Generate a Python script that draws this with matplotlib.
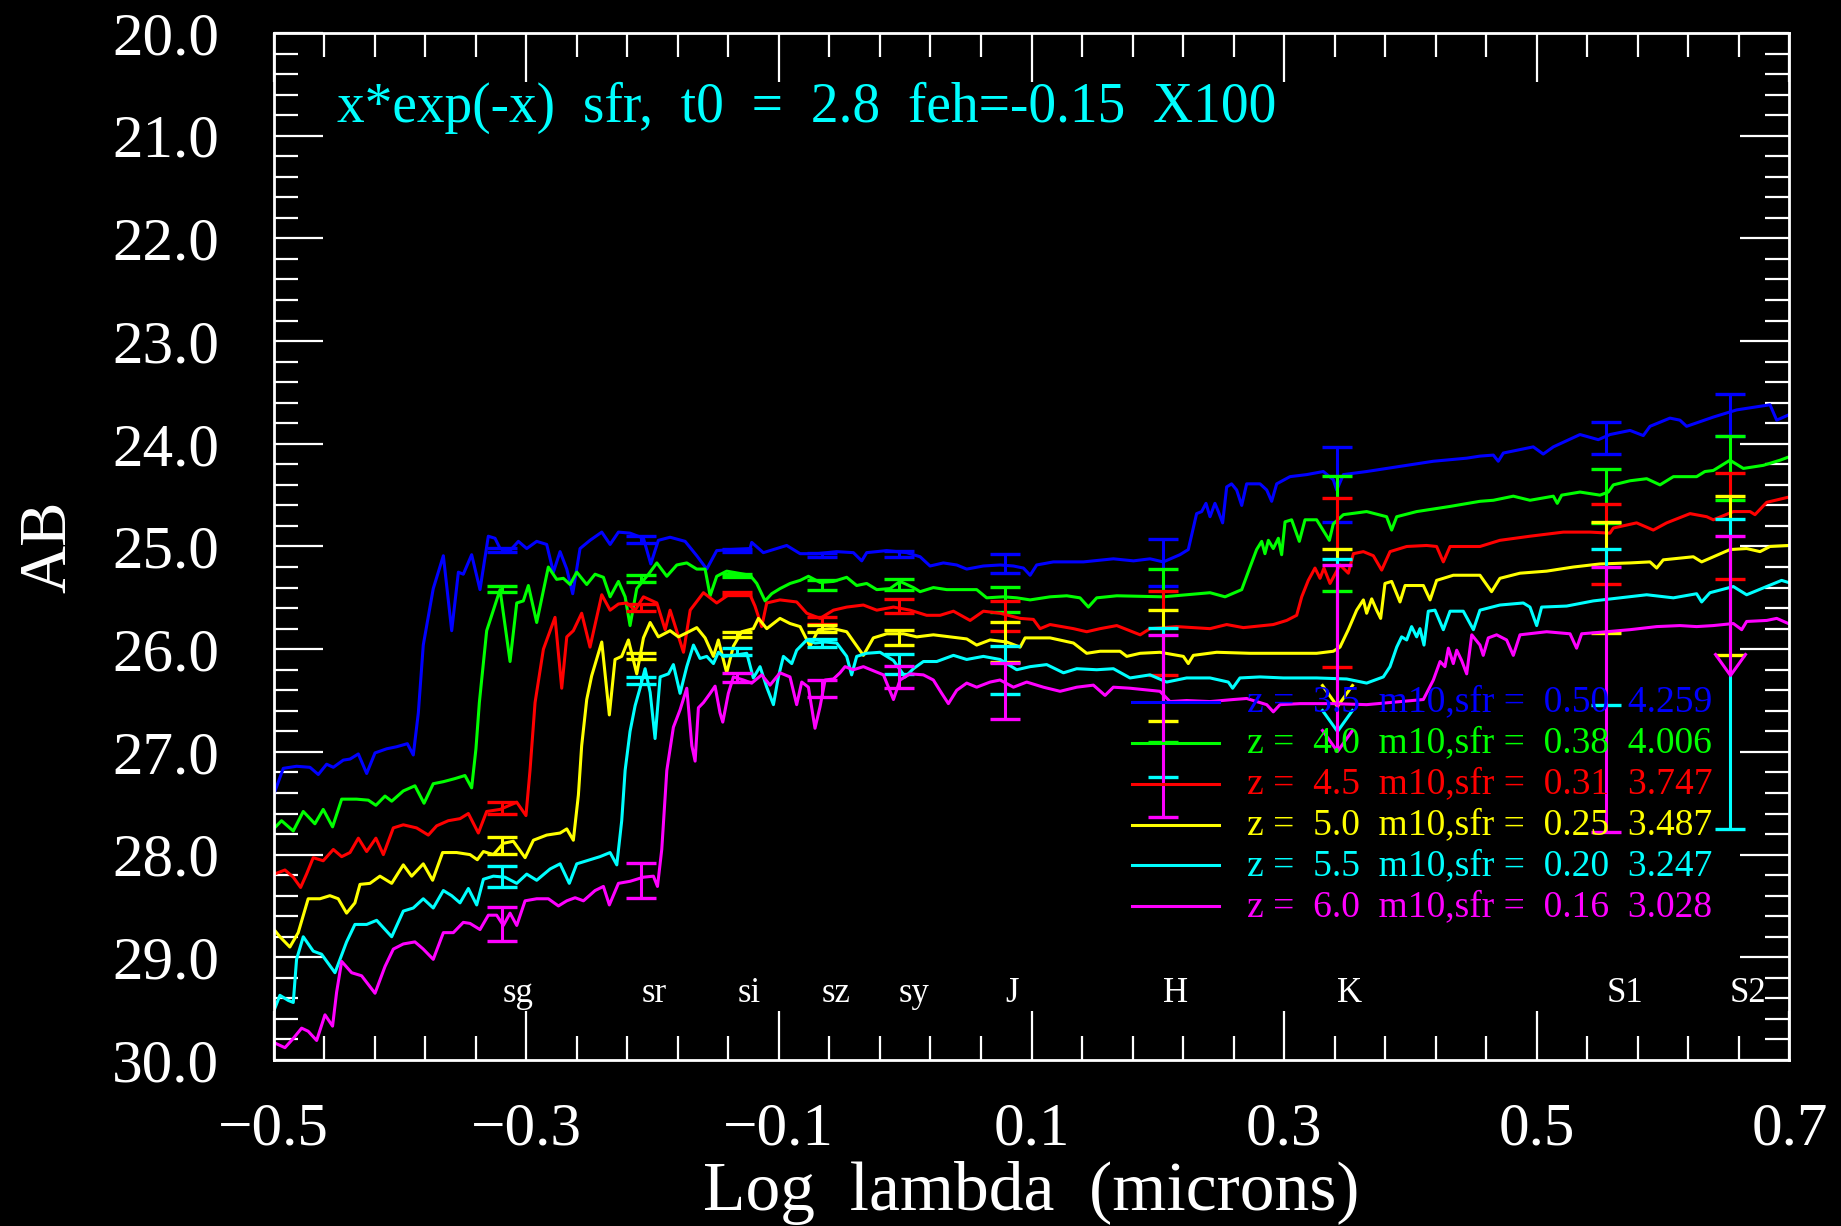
import matplotlib
matplotlib.use('Agg')
import matplotlib.pyplot as plt
from matplotlib.ticker import MultipleLocator, FuncFormatter

plt.rcParams['font.family'] = ['Liberation Serif', 'DejaVu Serif']

# ---- spectra (log lambda, AB mag) ----
blue_x = [-0.500, -0.4923, -0.4818, -0.4712, -0.4646, -0.4580, -0.4527, -0.4448, -0.4395, -0.4329,
          -0.4263, -0.4197, -0.4105, -0.4026, -0.3941, -0.3894, -0.3854, -0.3815, -0.3736, -0.3656,
          -0.3590, -0.3537, -0.3498, -0.3432, -0.3366, -0.3300, -0.3247, -0.3207, -0.3128, -0.3062,
          -0.2996, -0.2917, -0.2838, -0.2785, -0.2732, -0.2679, -0.2632, -0.2574, -0.2495, -0.2402,
          -0.2336, -0.2270, -0.2178, -0.2072, -0.2014, -0.1954, -0.1861, -0.1742, -0.1650, -0.1571,
          -0.1492, -0.1387, -0.1228, -0.1215, -0.1123, -0.1043, -0.0938, -0.0832, -0.0700, -0.0542,
          -0.0410, -0.0344, -0.0305, -0.0146, 0.0012, 0.0118, 0.0197, 0.0302, 0.0408, 0.0487,
          0.0619, 0.0751, 0.0857, 0.0936, 0.0989, 0.1041, 0.1173, 0.1411, 0.1648, 0.1807,
          0.1938, 0.2043, 0.2175, 0.2241, 0.2307, 0.2347, 0.2381, 0.2413, 0.2452, 0.2479,
          0.2513, 0.2545, 0.2584, 0.2624, 0.2664, 0.2703, 0.2809, 0.2862, 0.2901, 0.2941,
          0.3046, 0.3178, 0.3310, 0.3389, 0.3416, 0.3469, 0.3653, 0.3917, 0.4181, 0.4445,
          0.4550, 0.4656, 0.4695, 0.4735, 0.4972, 0.5051, 0.5131, 0.5342, 0.5487, 0.5579,
          0.5738, 0.5843, 0.5896, 0.6054, 0.6133, 0.6186, 0.6397, 0.6582, 0.6846, 0.6899, 0.6991]
blue_y = [27.42, 27.16, 27.14, 27.15, 27.22, 27.12, 27.15, 27.08, 27.07, 27.02,
          27.21, 27.01, 26.97, 26.95, 26.92, 27.03, 26.62, 25.96, 25.41, 25.09,
          25.82, 25.25, 25.27, 25.08, 25.42, 24.90, 24.92, 25.02, 25.04, 24.95,
          25.02, 24.95, 24.98, 25.25, 25.05, 25.22, 25.46, 25.02, 24.94, 24.86,
          24.98, 24.86, 24.87, 24.92, 25.17, 24.94, 24.91, 24.95, 25.09, 25.22,
          25.04, 25.03, 25.02, 24.96, 25.06, 25.03, 24.99, 25.07, 25.07, 25.05,
          25.06, 25.14, 25.06, 25.04, 25.06, 25.10, 25.19, 25.16, 25.18, 25.22,
          25.19, 25.18, 25.19, 25.21, 25.28, 25.18, 25.15, 25.15, 25.12, 25.14,
          25.12, 25.15, 25.08, 25.03, 24.68, 24.66, 24.58, 24.71, 24.58, 24.66,
          24.77, 24.42, 24.39, 24.45, 24.60, 24.39, 24.39, 24.45, 24.56, 24.39,
          24.32, 24.30, 24.27, 24.35, 24.45, 24.30, 24.27, 24.22, 24.17, 24.14,
          24.12, 24.11, 24.17, 24.09, 24.03, 24.10, 24.03, 23.91, 23.96, 23.91,
          23.87, 23.92, 23.83, 23.75, 23.77, 23.83, 23.74, 23.67, 23.62, 23.77, 23.72]

green_x = [-0.5016, -0.4937, -0.4844, -0.4765, -0.4673, -0.4607, -0.4533, -0.4461, -0.4343, -0.4250,
           -0.4190, -0.4118, -0.4065, -0.3973, -0.3881, -0.3809, -0.3736, -0.3656, -0.3564, -0.3485,
           -0.3432, -0.3398, -0.3371, -0.3313, -0.3260, -0.3207, -0.3128, -0.3075, -0.3023, -0.2983,
           -0.2917, -0.2825, -0.2759, -0.2706, -0.2653, -0.2600, -0.2521, -0.2455, -0.2389, -0.2336,
           -0.2270, -0.2217, -0.2178, -0.2125, -0.2032, -0.1966, -0.1887, -0.1808, -0.1729, -0.1650,
           -0.1584, -0.1544, -0.1492, -0.1413, -0.1228, -0.1175, -0.1109, -0.1057, -0.0991, -0.0911,
           -0.0832, -0.0766, -0.0674, -0.0568, -0.0463, -0.0384, -0.0305, -0.0225, -0.0120, -0.0041,
           0.0065, 0.0118, 0.0223, 0.0329, 0.0461, 0.0566, 0.0645, 0.0778, 0.0883, 0.0989,
           0.1147, 0.1279, 0.1384, 0.1450, 0.1516, 0.1675, 0.2043, 0.2228, 0.2413, 0.2532,
           0.2664, 0.2730, 0.2782, 0.2822, 0.2848, 0.2875, 0.2914, 0.2954, 0.2980, 0.3007,
           0.3059, 0.3120, 0.3165, 0.3257, 0.3358, 0.3389, 0.3469, 0.3653, 0.3811, 0.3851,
           0.3891, 0.4049, 0.4313, 0.4550, 0.4656, 0.4814, 0.4946, 0.5131, 0.5162, 0.5197,
           0.5342, 0.5500, 0.5566, 0.5606, 0.5738, 0.5870, 0.5975, 0.6081, 0.6265, 0.6331,
           0.6397, 0.6529, 0.6635, 0.6793, 0.6925, 0.6991]
green_y = [27.77, 27.67, 27.77, 27.58, 27.70, 27.56, 27.73, 27.46, 27.46, 27.47,
           27.52, 27.43, 27.48, 27.38, 27.33, 27.50, 27.31, 27.29, 27.26, 27.23,
           27.35, 26.97, 26.52, 25.82, 25.62, 25.42, 26.12, 25.55, 25.53, 25.38,
           25.74, 25.20, 25.32, 25.31, 25.37, 25.25, 25.37, 25.27, 25.30, 25.49,
           25.34, 25.49, 25.77, 25.41, 25.27, 25.16, 25.29, 25.18, 25.16, 25.22,
           25.22, 25.48, 25.29, 25.24, 25.28, 25.36, 25.53, 25.46, 25.41, 25.36,
           25.33, 25.29, 25.35, 25.34, 25.30, 25.38, 25.36, 25.42, 25.41, 25.34,
           25.40, 25.44, 25.40, 25.42, 25.42, 25.42, 25.50, 25.49, 25.50, 25.52,
           25.49, 25.48, 25.50, 25.59, 25.50, 25.48, 25.49, 25.47, 25.45, 25.49,
           25.42, 25.20, 25.03, 24.95, 25.07, 24.94, 25.02, 24.92, 25.08, 24.76,
           24.74, 24.95, 24.74, 24.74, 24.94, 24.78, 24.69, 24.66, 24.71, 24.84,
           24.71, 24.66, 24.61, 24.56, 24.55, 24.51, 24.55, 24.51, 24.58, 24.50,
           24.47, 24.50, 24.47, 24.40, 24.36, 24.34, 24.40, 24.32, 24.32, 24.27,
           24.26, 24.16, 24.24, 24.21, 24.16, 24.13]

red_x = [-0.5016, -0.4910, -0.4844, -0.4786, -0.4739, -0.4686, -0.4607, -0.4527, -0.4461, -0.4395,
         -0.4329, -0.4263, -0.4190, -0.4131, -0.4052, -0.3973, -0.3868, -0.3775, -0.3709, -0.3617,
         -0.3524, -0.3458, -0.3379, -0.3313, -0.3207, -0.3075, -0.3002, -0.2970, -0.2930, -0.2864,
         -0.2772, -0.2719, -0.2679, -0.2627, -0.2561, -0.2495, -0.2402, -0.2336, -0.2270, -0.2204,
         -0.2138, -0.2072, -0.1966, -0.1900, -0.1861, -0.1755, -0.1702, -0.1597, -0.1492, -0.1386,
         -0.1228, -0.1189, -0.1136, -0.1096, -0.0991, -0.0859, -0.0779, -0.0674, -0.0568, -0.0463,
         -0.0331, -0.0225, -0.0093, 0.0039, 0.0170, 0.0276, 0.0382, 0.0514, 0.0619, 0.0751,
         0.0910, 0.1015, 0.1068, 0.1147, 0.1332, 0.1437, 0.1543, 0.1675, 0.1860, 0.1938,
         0.2149, 0.2413, 0.2545, 0.2677, 0.2914, 0.3020, 0.3099, 0.3139, 0.3191, 0.3244,
         0.3284, 0.3315, 0.3363, 0.3442, 0.3508, 0.3548, 0.3627, 0.3706, 0.3772, 0.3838,
         0.3970, 0.4128, 0.4207, 0.4260, 0.4313, 0.4550, 0.4708, 0.4946, 0.5210, 0.5421,
         0.5579, 0.5606, 0.5790, 0.5922, 0.6028, 0.6213, 0.6345, 0.6397, 0.6556, 0.6688,
         0.6727, 0.6820, 0.6991]
red_y = [28.20, 28.15, 28.22, 28.32, 28.19, 28.03, 28.06, 27.95, 28.02, 27.98,
         27.84, 27.97, 27.84, 28.00, 27.74, 27.71, 27.74, 27.81, 27.72, 27.67,
         27.65, 27.60, 27.79, 27.58, 27.56, 27.49, 27.62, 27.18, 26.52, 26.00,
         25.69, 26.38, 25.88, 25.82, 25.65, 25.98, 25.47, 25.62, 25.56, 25.55,
         25.62, 25.49, 25.55, 25.81, 25.62, 26.03, 25.62, 25.45, 25.55, 25.46,
         25.47, 25.58, 25.78, 25.55, 25.52, 25.54, 25.65, 25.70, 25.62, 25.59,
         25.57, 25.62, 25.59, 25.62, 25.67, 25.67, 25.63, 25.72, 25.63, 25.65,
         25.70, 25.71, 25.80, 25.76, 25.80, 25.83, 25.80, 25.77, 25.86, 25.80,
         25.78, 25.80, 25.76, 25.79, 25.76, 25.72, 25.67, 25.49, 25.33, 25.21,
         25.31, 25.21, 25.36, 25.18, 25.26, 25.07, 25.05, 25.09, 25.23, 25.05,
         25.00, 24.99, 25.00, 25.15, 25.00, 25.00, 24.94, 24.90, 24.86, 24.86,
         24.87, 24.82, 24.77, 24.84, 24.77, 24.68, 24.71, 24.74, 24.66, 24.66,
         24.69, 24.57, 24.52]

yellow_x = [-0.5016, -0.4950, -0.4871, -0.4805, -0.4726, -0.4633, -0.4554, -0.4488, -0.4422, -0.4356,
            -0.4316, -0.4237, -0.4158, -0.4065, -0.3973, -0.3907, -0.3815, -0.3741, -0.3662, -0.3551,
            -0.3445, -0.3387, -0.3339, -0.3260, -0.3181, -0.3102, -0.3009, -0.2943, -0.2838, -0.2732,
            -0.2679, -0.2627, -0.2587, -0.2561, -0.2521, -0.2482, -0.2402, -0.2342, -0.2297, -0.2244,
            -0.2191, -0.2125, -0.2072, -0.2019, -0.1954, -0.1861, -0.1795, -0.1729, -0.1650, -0.1584,
            -0.1518, -0.1479, -0.1413, -0.1360, -0.1294, -0.1202, -0.1162, -0.1096, -0.0991, -0.0912,
            -0.0832, -0.0753, -0.0687, -0.0568, -0.0463, -0.0331, -0.0252, -0.0146, -0.0014, 0.0092,
            0.0223, 0.0355, 0.0487, 0.0566, 0.0672, 0.0804, 0.0910, 0.0949, 0.1147, 0.1332,
            0.1437, 0.1543, 0.1701, 0.1754, 0.1860, 0.2017, 0.2202, 0.2241, 0.2281, 0.2466,
            0.2730, 0.2994, 0.3257, 0.3389, 0.3442, 0.3508, 0.3574, 0.3627, 0.3653, 0.3693,
            0.3732, 0.3764, 0.3798, 0.3851, 0.3917, 0.3957, 0.4102, 0.4155, 0.4207, 0.4339,
            0.4550, 0.4642, 0.4708, 0.4867, 0.5078, 0.5289, 0.5500, 0.5738, 0.5896, 0.5949,
            0.6001, 0.6239, 0.6305, 0.6529, 0.6661, 0.6767, 0.6846, 0.6991]
yellow_y = [28.70, 28.80, 28.90, 28.76, 28.43, 28.43, 28.40, 28.43, 28.57, 28.47,
            28.29, 28.28, 28.21, 28.28, 28.10, 28.21, 28.09, 28.25, 27.98, 27.98,
            28.00, 28.05, 27.97, 28.00, 27.89, 27.87, 28.03, 27.86, 27.81, 27.79,
            27.75, 27.86, 27.42, 26.94, 26.49, 26.26, 25.93, 26.64, 26.10, 26.07,
            25.91, 26.24, 25.89, 25.74, 25.88, 25.82, 25.88, 25.84, 25.79, 25.89,
            26.07, 25.91, 26.23, 25.97, 25.83, 25.80, 25.70, 25.80, 25.70, 25.75,
            25.78, 25.97, 25.81, 25.80, 25.83, 26.06, 25.89, 25.85, 25.85, 25.88,
            25.86, 25.88, 25.90, 25.96, 25.91, 25.93, 25.98, 25.89, 25.89, 25.94,
            26.04, 26.02, 26.02, 26.07, 26.04, 26.03, 26.07, 26.14, 26.06, 26.03,
            26.04, 26.04, 26.04, 26.02, 25.98, 25.81, 25.62, 25.52, 25.65, 25.51,
            25.62, 25.70, 25.36, 25.34, 25.54, 25.38, 25.38, 25.52, 25.33, 25.28,
            25.28, 25.44, 25.31, 25.26, 25.24, 25.20, 25.17, 25.16, 25.15, 25.21,
            25.13, 25.10, 25.15, 25.03, 25.02, 25.05, 25.00, 24.99]

cyan_x = [-0.5016, -0.4950, -0.4884, -0.4844, -0.4818, -0.4765, -0.4686, -0.4620, -0.4514, -0.4422,
          -0.4356, -0.4263, -0.4184, -0.4065, -0.3973, -0.3894, -0.3815, -0.3736, -0.3656, -0.3590,
          -0.3524, -0.3458, -0.3392, -0.3339, -0.3260, -0.3168, -0.3075, -0.2996, -0.2917, -0.2811,
          -0.2732, -0.2659, -0.2600, -0.2521, -0.2416, -0.2336, -0.2283, -0.2244, -0.2217, -0.2178,
          -0.2138, -0.2099, -0.2059, -0.2019, -0.1980, -0.1940, -0.1874, -0.1835, -0.1782, -0.1729,
          -0.1676, -0.1624, -0.1571, -0.1518, -0.1479, -0.1439, -0.1360, -0.1254, -0.1202, -0.1149,
          -0.1096, -0.1043, -0.1004, -0.0964, -0.0898, -0.0859, -0.0779, -0.0714, -0.0634, -0.0542,
          -0.0463, -0.0424, -0.0384, -0.0305, -0.0199, -0.0093, 0.0000, 0.0065, 0.0144, 0.0250,
          0.0382, 0.0487, 0.0619, 0.0751, 0.0883, 0.0989, 0.1120, 0.1253, 0.1358, 0.1516,
          0.1648, 0.1780, 0.1938, 0.2070, 0.2228, 0.2413, 0.2558, 0.2592, 0.2650, 0.2809,
          0.2994, 0.3257, 0.3495, 0.3653, 0.3785, 0.3838, 0.3891, 0.3930, 0.3970, 0.4009,
          0.4049, 0.4075, 0.4107, 0.4141, 0.4194, 0.4260, 0.4313, 0.4418, 0.4498, 0.4550,
          0.4708, 0.4893, 0.4946, 0.4999, 0.5038, 0.5236, 0.5447, 0.5658, 0.5870, 0.6081,
          0.6265, 0.6305, 0.6371, 0.6556, 0.6661, 0.6820, 0.6938, 0.6991]
cyan_y = [29.58, 29.37, 29.42, 29.44, 29.02, 28.80, 28.94, 28.97, 29.15, 28.85,
          28.68, 28.68, 28.64, 28.80, 28.55, 28.52, 28.43, 28.52, 28.35, 28.40,
          28.47, 28.33, 28.49, 28.24, 28.21, 28.22, 28.28, 28.19, 28.25, 28.14,
          28.09, 28.28, 28.09, 28.06, 28.02, 27.98, 28.10, 27.67, 27.18, 26.80,
          26.55, 26.38, 26.19, 26.42, 26.87, 26.27, 26.24, 26.15, 26.43, 26.17,
          25.96, 26.09, 26.07, 26.14, 26.03, 26.07, 26.06, 26.04, 26.28, 26.17,
          26.37, 26.54, 26.27, 26.07, 26.14, 26.01, 25.91, 25.94, 25.93, 25.94,
          26.07, 26.25, 26.07, 26.04, 26.03, 26.11, 26.27, 26.19, 26.12, 26.12,
          26.06, 26.10, 26.07, 26.10, 26.20, 26.17, 26.15, 26.23, 26.19, 26.20,
          26.19, 26.28, 26.25, 26.32, 26.28, 26.28, 26.32, 26.38, 26.28, 26.27,
          26.28, 26.28, 26.29, 26.33, 26.27, 26.17, 25.98, 25.88, 25.91, 25.78,
          25.88, 25.80, 25.96, 25.63, 25.62, 25.81, 25.63, 25.63, 25.81, 25.62,
          25.57, 25.55, 25.59, 25.77, 25.59, 25.58, 25.53, 25.50, 25.47, 25.50,
          25.46, 25.54, 25.45, 25.39, 25.47, 25.39, 25.33, 25.35]

magenta_x = [-0.5016, -0.4910, -0.4844, -0.4778, -0.4726, -0.4659, -0.4593, -0.4533, -0.4501, -0.4461,
             -0.4382, -0.4303, -0.4197, -0.4118, -0.4052, -0.3973, -0.3881, -0.3815, -0.3736, -0.3656,
             -0.3577, -0.3498, -0.3445, -0.3366, -0.3300, -0.3234, -0.3181, -0.3128, -0.3075, -0.3009,
             -0.2917, -0.2825, -0.2745, -0.2679, -0.2613, -0.2547, -0.2455, -0.2389, -0.2342, -0.2270,
             -0.2178, -0.2072, -0.1993, -0.1961, -0.1927, -0.1887, -0.1835, -0.1782, -0.1729, -0.1689,
             -0.1663, -0.1637, -0.1597, -0.1544, -0.1505, -0.1466, -0.1444, -0.1400, -0.1360, -0.1281,
             -0.1215, -0.1136, -0.1070, -0.0991, -0.0912, -0.0859, -0.0819, -0.0766, -0.0714, -0.0674,
             -0.0634, -0.0568, -0.0516, -0.0476, -0.0410, -0.0331, -0.0252, -0.0172, -0.0093, -0.0041,
             0.0039, 0.0144, 0.0223, 0.0289, 0.0342, 0.0408, 0.0487, 0.0566, 0.0672, 0.0751,
             0.0857, 0.0962, 0.1094, 0.1226, 0.1358, 0.1490, 0.1582, 0.1648, 0.1780, 0.2017,
             0.2096, 0.2228, 0.2413, 0.2598, 0.2703, 0.2862, 0.2914, 0.2967, 0.3125, 0.3389,
             0.3653, 0.3917, 0.4102, 0.4181, 0.4234, 0.4273, 0.4300, 0.4339, 0.4366, 0.4405,
             0.4445, 0.4485, 0.4550, 0.4576, 0.4616, 0.4682, 0.4761, 0.4814, 0.4867, 0.5078,
             0.5263, 0.5315, 0.5355, 0.5553, 0.5738, 0.5949, 0.6133, 0.6265, 0.6397, 0.6556,
             0.6622, 0.6661, 0.6820, 0.6899, 0.6991]
magenta_y = [29.82, 29.88, 29.79, 29.69, 29.72, 29.81, 29.56, 29.67, 29.34, 29.04,
             29.15, 29.18, 29.35, 29.09, 28.92, 28.87, 28.85, 28.92, 29.02, 28.76,
             28.76, 28.66, 28.67, 28.73, 28.59, 28.59, 28.69, 28.57, 28.69, 28.45,
             28.43, 28.43, 28.50, 28.45, 28.42, 28.45, 28.35, 28.31, 28.49, 28.28,
             28.26, 28.22, 28.21, 28.31, 27.95, 27.18, 26.76, 26.59, 26.38, 26.94,
             27.09, 26.57, 26.52, 26.43, 26.36, 26.62, 26.71, 26.43, 26.27, 26.30,
             26.33, 26.25, 26.35, 26.23, 26.27, 26.54, 26.32, 26.37, 26.77, 26.56,
             26.30, 26.29, 26.23, 26.17, 26.20, 26.17, 26.21, 26.25, 26.49, 26.30,
             26.24, 26.25, 26.30, 26.43, 26.53, 26.40, 26.33, 26.37, 26.32, 26.30,
             26.37, 26.32, 26.37, 26.41, 26.37, 26.35, 26.45, 26.37, 26.38, 26.41,
             26.51, 26.50, 26.51, 26.49, 26.48, 26.54, 26.61, 26.54, 26.53, 26.53,
             26.54, 26.51, 26.49, 26.30, 26.12, 26.17, 25.99, 26.14, 26.01, 26.11,
             26.24, 25.86, 25.96, 26.06, 25.89, 25.86, 25.91, 26.06, 25.86, 25.83,
             25.85, 25.99, 25.85, 25.83, 25.81, 25.78, 25.77, 25.78, 25.77, 25.75,
             25.81, 25.73, 25.72, 25.70, 25.75]

# ---- photometric bands ----
bands = ['sg', 'sr', 'si', 'sz', 'sy', 'J', 'H', 'K', 'S1', 'S2']
band_x = [-0.319, -0.209, -0.133, -0.066, -0.005, 0.079, 0.204, 0.342, 0.555, 0.653]

# bright end / faint end of each error bar; *_lim marks an upper limit (arrow)
blue_top = [25.01, 24.90, 25.02, 25.06, 25.04, 25.07, 24.93, 24.03, 23.79, 23.52]
blue_bot = [25.05, 24.97, 25.05, 25.10, 25.10, 25.26, 25.38, 24.76, 24.10, 23.92]
blue_lim = [False] * 10
green_top = [25.38, 25.28, 25.27, 25.33, 25.32, 25.39, 25.22, 24.31, 24.25, 23.92]
green_bot = [25.44, 25.35, 25.30, 25.42, 25.42, 25.64, 26.90, 25.43, 24.77, 24.55]
green_lim = [False] * 10
red_top = [27.49, 25.56, 25.44, 25.69, 25.51, 25.53, 25.43, 24.53, 24.59, 24.28]
red_bot = [27.60, 25.63, 25.47, 25.75, 25.65, 25.82, 26.25, 26.17, 25.37, 25.32]
red_lim = [False] * 10
yellow_top = [27.83, 26.04, 25.83, 25.76, 25.81, 25.74, 25.62, 25.02, 24.76, 24.51]
yellow_bot = [27.99, 26.10, 25.88, 25.83, 25.96, 26.12, 26.70, 26.55, 25.84, 26.06]
yellow_lim = [False, False, False, False, False, False, False, True, False, False]
cyan_top = [28.11, 26.27, 25.99, 25.90, 26.05, 25.97, 25.79, 25.12, 25.02, 24.73]
cyan_bot = [28.32, 26.34, 26.06, 25.98, 26.24, 26.44, 27.24, 26.80, 26.54, 27.75]
cyan_lim = [False, False, False, False, False, False, False, True, False, False]
magenta_top = [28.51, 28.08, 26.23, 26.30, 26.16, 26.13, 25.86, 25.18, 25.20, 24.90]
magenta_bot = [28.84, 28.42, 26.32, 26.47, 26.38, 26.68, 27.63, 26.99, 27.78, 26.25]
magenta_lim = [False, False, False, False, False, False, False, True, False, True]

labels = ['z =  3.5  m10,sfr =  0.50  4.259',
          'z =  4.0  m10,sfr =  0.38  4.006',
          'z =  4.5  m10,sfr =  0.31  3.747',
          'z =  5.0  m10,sfr =  0.25  3.487',
          'z =  5.5  m10,sfr =  0.20  3.247',
          'z =  6.0  m10,sfr =  0.16  3.028']
colors = ['#0000ff', '#00ff00', '#ff0000', '#ffff00', '#00ffff', '#ff00ff']

series = [
    (blue_x, blue_y, blue_top, blue_bot, blue_lim),
    (green_x, green_y, green_top, green_bot, green_lim),
    (red_x, red_y, red_top, red_bot, red_lim),
    (yellow_x, yellow_y, yellow_top, yellow_bot, yellow_lim),
    (cyan_x, cyan_y, cyan_top, cyan_bot, cyan_lim),
    (magenta_x, magenta_y, magenta_top, magenta_bot, magenta_lim),
]

vmark = [(-1, 1.4), (0, 0), (1, 1.4)]   # open "V" for upper limits
LW = 2.2

fig = plt.figure(figsize=(18.41, 12.26), dpi=100, facecolor='black')
ax = fig.add_axes([0.1486, 0.1354, 0.8234, 0.8377], facecolor='black')

for (sx, sy, top, bot, lim), c in zip(series, colors):
    ax.plot(sx, sy, color=c, lw=LW, zorder=2)
    ax.vlines(band_x, top, bot, colors=c, lw=LW, zorder=2)
    ax.plot(band_x, top, ls='none', marker='_', ms=22, mew=2.4, color=c, zorder=2)
    cap_x = [bx for bx, l in zip(band_x, lim) if not l]
    cap_y = [b for b, l in zip(bot, lim) if not l]
    ax.plot(cap_x, cap_y, ls='none', marker='_', ms=22, mew=2.4, color=c, zorder=2)
    arr_x = [bx for bx, l in zip(band_x, lim) if l]
    arr_y = [b for b, l in zip(bot, lim) if l]
    if arr_x:
        ax.plot(arr_x, arr_y, ls='none', marker=vmark, ms=32, mfc='none', mec=c, mew=LW, zorder=2)

# legend drawn IDL-style: short line + coloured text
for i, (lab, c) in enumerate(zip(labels, colors)):
    yy = 0.349 - i * 0.0399
    ax.plot([0.566, 0.624], [yy, yy], color=c, lw=LW, transform=ax.transAxes, zorder=3)
    ax.text(0.642, yy, lab, color=c, fontsize=27, va='center', ha='left',
            transform=ax.transAxes, zorder=3)

ax.text(0.042, 0.914, 'x*exp(-x)  sfr,  t0  =  2.8  feh=-0.15  X100', color='#00ffff',
        fontsize=40, transform=ax.transAxes, va='baseline', ha='left')

for name, bx in zip(bands, band_x):
    ax.text(bx, 29.44, name, color='white', fontsize=25, ha='left', va='baseline')

ax.set_xlim(-0.5, 0.7)
ax.set_ylim(30.0, 20.0)

ax.xaxis.set_major_locator(MultipleLocator(0.2, offset=0.1))
ax.xaxis.set_minor_locator(MultipleLocator(0.04, offset=0.02))
ax.yaxis.set_major_locator(MultipleLocator(1.0))
ax.yaxis.set_minor_locator(MultipleLocator(0.2))
fmt = FuncFormatter(lambda v, p: f'{v:.1f}'.replace('-', '\u2212'))
ax.xaxis.set_major_formatter(fmt)
ax.yaxis.set_major_formatter(fmt)

ax.tick_params(which='both', direction='in', top=True, right=True, colors='white', width=1.6)
ax.tick_params(which='major', length=35, labelsize=44)
ax.tick_params(which='minor', length=17)
ax.tick_params(axis='x', which='major', pad=30)
ax.tick_params(axis='y', which='major', pad=39)
for sp in ax.spines.values():
    sp.set_color('white')
    sp.set_linewidth(2)

ax.set_xlabel('Log  lambda  (microns)', color='white', fontsize=50)
ax.xaxis.label.set_verticalalignment('baseline')
ax.xaxis.set_label_coords(0.5, -0.146)
ax.set_ylabel('AB', color='white', fontsize=48)
ax.yaxis.label.set_verticalalignment('baseline')
ax.yaxis.set_label_coords(-0.1376, 0.5)

fig.savefig('out.png', dpi=100, facecolor='black')
